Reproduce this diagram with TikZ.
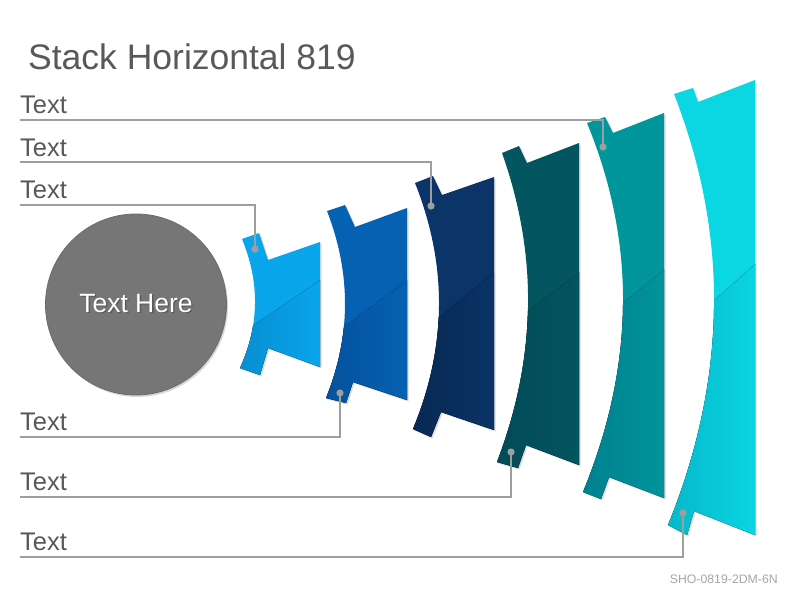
\documentclass[tikz,border=0pt]{standalone}
\usepackage{fontspec}
\setmainfont{Liberation Sans}
\usetikzlibrary{calc}
\definecolor{txt}{HTML}{595959}
\definecolor{connc}{HTML}{9E9E9E}
\definecolor{circf}{HTML}{767676}
\definecolor{circd}{HTML}{6A6A6A}
\definecolor{footc}{HTML}{A6A6A6}
\definecolor{ca}{HTML}{0AA6EC}\definecolor{cad}{HTML}{078CCF}
\definecolor{cb}{HTML}{0562B2}\definecolor{cbd}{HTML}{04509A}
\definecolor{cc}{HTML}{0B3468}\definecolor{ccd}{HTML}{072750}
\definecolor{cd}{HTML}{03555F}\definecolor{cdd}{HTML}{024A58}
\definecolor{ce}{HTML}{00969B}\definecolor{ced}{HTML}{007E8E}
\definecolor{cf}{HTML}{0AD7E1}\definecolor{cfd}{HTML}{06B5C9}
\newcommand\stk[3]{%
  \begin{scope}[transform canvas={shift={(1.5,1.5)}}]
    \fill[black,opacity=0.14] (#1a) -- (#1b) -- (#1c) -- (#1d) -- (#1e) -- (#1f) -- (#1g) -- (#1h) .. controls ($(#1h)!2/3!(#1q)$) and ($(#1a)!2/3!(#1q)$) .. (#1a) -- cycle;
  \end{scope}
  \fill[#2] (#1a) -- (#1b) -- (#1c) -- (#1d) -- (#1e) -- (#1f) -- (#1g) -- (#1h) .. controls ($(#1h)!2/3!(#1q)$) and ($(#1a)!2/3!(#1q)$) .. (#1a) -- cycle;
  \begin{scope}
    \clip (#1a) -- (#1b) -- (#1c) -- (#1d) -- (#1e) -- (#1f) -- (#1g) -- (#1h) .. controls ($(#1h)!2/3!(#1q)$) and ($(#1a)!2/3!(#1q)$) .. (#1a) -- cycle;
    \fill[left color=#3,middle color=#2!75!#3,right color=#2] (#1p) -- (#1r) -- ++(0,300) -| (#1p) -- cycle;
  \end{scope}}
\tikzset{
  lbl/.style={anchor=base west,inner sep=0pt,text=txt,font=\fontsize{25.5}{30}\selectfont},
  conn/.style={draw=connc,line width=2.5pt},
  dotc/.style={fill=connc},
}
\begin{document}
\begin{tikzpicture}[x=1pt,y=-1pt]
\useasboundingbox[fill=white] (0,0) rectangle (800,600);
% title
\node[anchor=base west,inner sep=0pt,text=txt,font=\fontsize{35.5}{42}\selectfont] (title) at (28,69) {Stack Horizontal 819};
% central circle
\begin{scope}[transform canvas={shift={(1.5,2)}}]
  \fill[black,opacity=0.15] (136,304.5) circle (90.5);
\end{scope}
\node[circle,minimum size=181pt,inner sep=0pt,fill=circf,draw=circd,line width=0.8pt] (hub) at (136,304.5) {};
\node[text=black,opacity=0.25,font=\fontsize{26.5}{30}\selectfont,inner sep=0pt] (hubshadow) at (137.3,305) {Text Here};
\node[text=white,font=\fontsize{26.5}{30}\selectfont,inner sep=0pt] (hubtext) at (136,303.5) {Text Here};
% shape coordinates
\coordinate (s1a) at (242,239); \coordinate (s1b) at (259,233); \coordinate (s1c) at (268,260); \coordinate (s1d) at (320,242);
\coordinate (s1e) at (320,367); \coordinate (s1f) at (268,348); \coordinate (s1g) at (260,375); \coordinate (s1h) at (240,368);
\coordinate (s1q) at (269,304.5); \coordinate (s1p) at (230,341); \coordinate (s1r) at (325,277);
\coordinate (s2a) at (327,211); \coordinate (s2b) at (345,205); \coordinate (s2c) at (355,227); \coordinate (s2d) at (407,208);
\coordinate (s2e) at (407,400); \coordinate (s2f) at (353,382); \coordinate (s2g) at (346,403); \coordinate (s2h) at (326,398);
\coordinate (s2q) at (363.5,305.5); \coordinate (s2p) at (315,348); \coordinate (s2r) at (412,277);
\coordinate (s3a) at (415,183); \coordinate (s3b) at (433,176); \coordinate (s3c) at (442,195); \coordinate (s3d) at (494,177);
\coordinate (s3e) at (494,430); \coordinate (s3f) at (441,412); \coordinate (s3g) at (431,437); \coordinate (s3h) at (413,429);
\coordinate (s3q) at (464,306); \coordinate (s3p) at (405,345); \coordinate (s3r) at (500,268);
\coordinate (s4a) at (502,153); \coordinate (s4b) at (519,146); \coordinate (s4c) at (527,163); \coordinate (s4d) at (579,143);
\coordinate (s4e) at (579,465); \coordinate (s4f) at (526,445); \coordinate (s4g) at (518,468); \coordinate (s4h) at (497,462);
\coordinate (s4q) at (556.5,306.5); \coordinate (s4p) at (490,340); \coordinate (s4r) at (585,268);
\coordinate (s5a) at (587,123); \coordinate (s5b) at (605,117); \coordinate (s5c) at (613,133); \coordinate (s5d) at (664,113);
\coordinate (s5e) at (664,498); \coordinate (s5f) at (609,477); \coordinate (s5g) at (601,499); \coordinate (s5h) at (583,492);
\coordinate (s5q) at (661,302.5); \coordinate (s5p) at (575,341); \coordinate (s5r) at (670,265);
\coordinate (s6a) at (674,94); \coordinate (s6b) at (693,88); \coordinate (s6c) at (698,102); \coordinate (s6d) at (755,80);
\coordinate (s6e) at (755,535); \coordinate (s6f) at (694,511); \coordinate (s6g) at (687,535); \coordinate (s6h) at (668,525);
\coordinate (s6q) at (757,306.5); \coordinate (s6p) at (660,348); \coordinate (s6r) at (760,260);
% shapes
\stk{s1}{ca}{cad}
\stk{s2}{cb}{cbd}
\stk{s3}{cc}{ccd}
\stk{s4}{cd}{cdd}
\stk{s5}{ce}{ced}
\stk{s6}{cf}{cfd}
% labels
\node[lbl] (t1) at (20,113) {Text};
\node[lbl] (t2) at (20,156) {Text};
\node[lbl] (t3) at (20,198) {Text};
\node[lbl] (t4) at (20,430) {Text};
\node[lbl] (t5) at (20,490) {Text};
\node[lbl] (t6) at (20,550) {Text};
% connectors
\coordinate (l1) at (20,120);  \coordinate (d1) at (603,147);
\coordinate (l2) at (20,162);  \coordinate (d2) at (431,206);
\coordinate (l3) at (20,205);  \coordinate (d3) at (255,249);
\coordinate (l4) at (20,437);  \coordinate (d4) at (340,393);
\coordinate (l5) at (20,497);  \coordinate (d5) at (511,452);
\coordinate (l6) at (20,557);  \coordinate (d6) at (683,513);
\foreach \i in {1,...,6}{
  \draw[conn] (l\i) -| (d\i);
  \fill[dotc] (d\i) circle (3.6);
}
% footer
\node[anchor=base east,inner sep=0pt,text=footc,font=\fontsize{12.3}{14}\selectfont] (foot) at (778,583) {SHO-0819-2DM-6N};
\end{tikzpicture}
\end{document}
